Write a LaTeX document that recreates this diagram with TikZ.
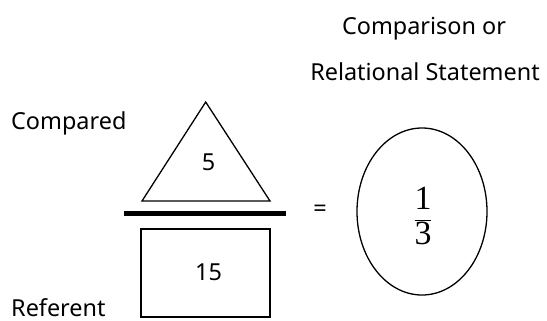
\documentclass[tikz,border=0pt]{standalone}
\usepackage{fontspec}
\setmainfont{Noto Sans}
\newfontfamily\fracfont{Liberation Serif}
\usetikzlibrary{shapes.geometric}
\begin{document}
\begin{tikzpicture}[x=1bp,y=-1bp,
  lbl/.style={font=\fontsize{23.5}{26}\selectfont, inner sep=0pt},
  shp/.style={draw, line width=1.3bp}]
\useasboundingbox (0,0) rectangle (547,320);
% triangle
\draw[shp] (205.7,102) coordinate (apex) -- (270,201) coordinate (br) -- (142,201) coordinate (bl) -- cycle;
\node[lbl, anchor=base] (five) at (208.5,170) {5};
% bar
\draw[line width=5bp] (124,213.3) coordinate (barL) -- (286,213.3) coordinate (barR);
% rectangle
\node[shp, minimum width=129bp, minimum height=88bp, inner sep=0pt] (box) at (205.5,273) {};
\node[lbl, anchor=base] (fifteen) at (208.5,280) {15};
% labels
\node[lbl, anchor=base west] (compared) at (11,129.3) {Compared};
\node[lbl, anchor=base west] (referent) at (11,316) {Referent};
\node[lbl] (eq) at (320,211) {=};
% ellipse
\node[shp, ellipse, minimum width=130bp, minimum height=167bp, inner sep=0pt] (ell) at (422,211.5) {};
\node[inner sep=0pt] (frac) at (423,216) {\fontsize{34}{37}\selectfont\fracfont$\displaystyle\frac{\mbox{1}}{\mbox{3}}$};
\node[lbl, anchor=base] (comp) at (424,34.3) {Comparison or};
\node[lbl, anchor=base] (rel) at (425,80) {Relational Statement};
\end{tikzpicture}
\end{document}
